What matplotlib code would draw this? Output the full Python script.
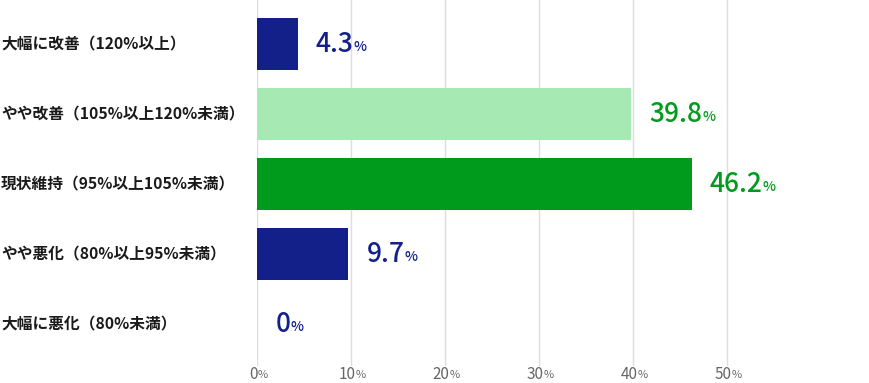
import matplotlib
matplotlib.use("Agg")
from matplotlib import pyplot as plt
from matplotlib import transforms

plt.rcParams['font.family'] = ['Noto Sans CJK JP', 'DejaVu Sans']

categories = ['大幅に改善（120%以上）', 'やや改善（105%以上120%未満）', '現状維持（95%以上105%未満）',
              'やや悪化（80%以上95%未満）', '大幅に悪化（80%未満）']
values = [4.3, 39.8, 46.2, 9.7, 0]
value_texts = ['4.3', '39.8', '46.2', '9.7', '0']
bar_colors = ['#13208a', '#a6e9b2', '#009b1c', '#13208a', '#13208a']
text_colors = ['#13208a', '#009b1c', '#009b1c', '#13208a', '#13208a']
xticks = [0, 10, 20, 30, 40, 50]

W, H = 870, 383
fig = plt.figure(figsize=(W / 100, H / 100), dpi=100)
x0 = 257.3
ax = fig.add_axes([x0 / W, (H - 366) / H, (W - x0) / W, 366 / H])
ax.set_xlim(0, (W - x0) / 9.4)
ax.set_ylim(4.6, -0.629)

for t in xticks:
    ax.axvline(t, color='#dddddd', lw=1, zorder=0)

pos = list(range(len(values)))
ax.barh(pos, values, height=0.74, color=bar_colors, zorder=2)

for i, (v, s, c) in enumerate(zip(values, value_texts, text_colors)):
    t = ax.annotate(s, xy=(v, i), xytext=(18, 0), textcoords='offset pixels',
                    ha='left', va='center', fontsize=19, fontweight='medium', color=c)
    ax.annotate('%', xy=(1, 0.14), xycoords=t, ha='left', va='bottom',
                fontsize=10, fontweight='medium', color=c)

# category labels on the left
tr = transforms.blended_transform_factory(fig.transFigure, ax.transData)
for i, lab in enumerate(categories):
    fig.text(1 / W, i, lab, transform=tr, ha='left', va='center',
             fontsize=11.3, fontweight='bold', color='#1a1a1a')

# x tick labels with small percent sign
for t in xticks:
    lt = ax.annotate(str(t), xy=(t, 0), xycoords=('data', 'figure fraction'),
                     xytext=(-4, 4), textcoords='offset pixels',
                     ha='center', va='baseline', fontsize=11, color='#666666')
    ax.annotate('%', xy=(1, 0.2), xycoords=lt, ha='left', va='bottom',
                fontsize=8, color='#666666')

ax.set_xticks([])
ax.set_yticks([])
for sp in ax.spines.values():
    sp.set_visible(False)

fig.savefig('out.png', dpi=100)
